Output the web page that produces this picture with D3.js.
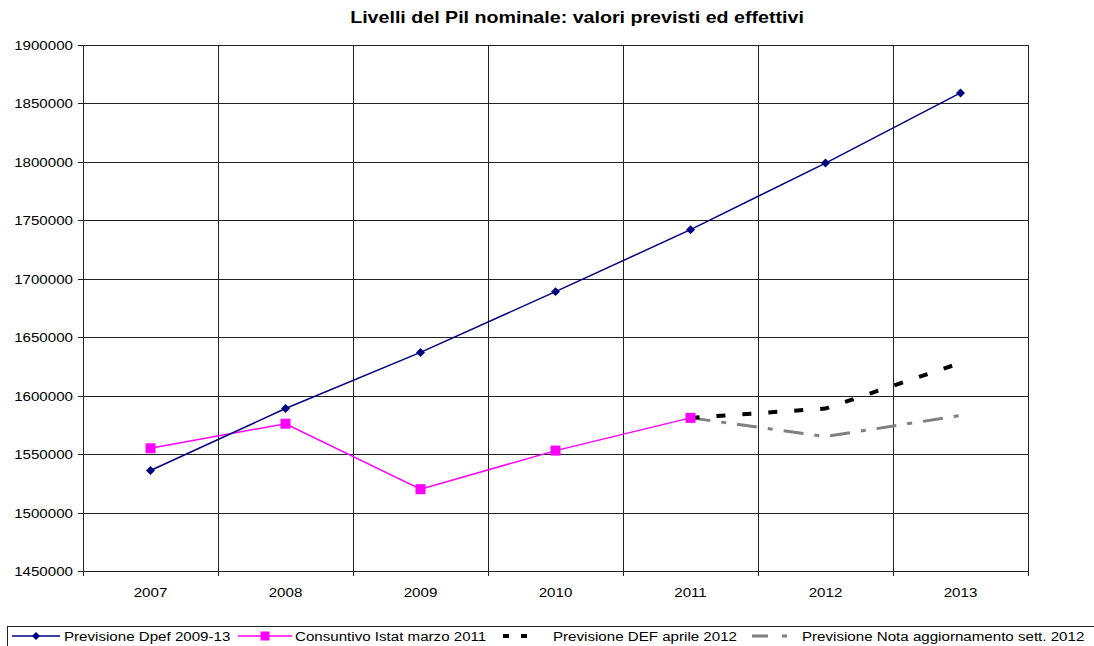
<!DOCTYPE html>
<html>
<head>
<meta charset="utf-8">
<script src="https://cdn.jsdelivr.net/npm/d3@7"></script>
<style>
  body { margin: 0; background: #fff; }
  svg text { font-family: "Liberation Sans", Arial, sans-serif; }
</style>
</head>
<body>
<script>
// dati
var anni = ["2007", "2008", "2009", "2010", "2011", "2012", "2013"];
var dpef = [1536000, 1589000, 1637000, 1689000, 1742000, 1799000, 1859000];
var istat = [1555000, 1576000, 1520000, 1553000, 1581000, null, null];
var def2012 = [null, null, null, null, 1581000, 1589000, 1628000];
var nota2012 = [null, null, null, null, 1581000, 1565000, 1583000];
var yTicks = [1450000, 1500000, 1550000, 1600000, 1650000, 1700000, 1750000, 1800000, 1850000, 1900000];
var titolo = "Livelli del Pil nominale: valori previsti ed effettivi";

var W = 1094, H = 646;
// margini (niente "top": e' riservato da window)
var pL = 83, pR = 1028, pT = 45, pB = 571;
var sx = 1.12; // il testo nell'originale e' un po' allargato

var svg = d3.select("body").append("svg")
    .attr("width", W)
    .attr("height", H);

var x = d3.scaleBand().domain(anni).range([pL, pR]);
var y = d3.scaleLinear().domain([1450000, 1900000]).range([pB, pT]);

function testo(g, tx, ty, s, size, anchor, stretch) {
  return g.append("text")
      .attr("transform", "translate(" + tx + "," + ty + ") scale(" + stretch + ",1)")
      .attr("text-anchor", anchor)
      .style("font-size", size + "px")
      .text(s);
}

// titolo
testo(svg, 577, 23, titolo, 16.5, "middle", 1.19)
    .style("font-weight", "bold");

// griglia orizzontale
svg.append("g").selectAll("line")
    .data(yTicks).enter()
    .append("line")
    .attr("x1", pL - 5).attr("x2", pR)
    .attr("y1", function(d) { return Math.round(y(d)) + 0.5; })
    .attr("y2", function(d) { return Math.round(y(d)) + 0.5; })
    .attr("stroke", "#222")
    .attr("stroke-width", 1);

// griglia verticale (confini delle categorie)
var bordi = anni.map(function(d) { return x(d); }).concat([pR]);
svg.append("g").selectAll("line")
    .data(bordi).enter()
    .append("line")
    .attr("x1", function(d) { return Math.round(d) + 0.5; })
    .attr("x2", function(d) { return Math.round(d) + 0.5; })
    .attr("y1", pT).attr("y2", pB + 5)
    .attr("stroke", "#222")
    .attr("stroke-width", 1);

// etichette asse y
var gy = svg.append("g");
yTicks.forEach(function(d) {
  testo(gy, pL - 10, y(d) + 5, d3.format("d")(d), 13.5, "end", sx);
});

// etichette asse x
var gx = svg.append("g");
anni.forEach(function(d) {
  testo(gx, x(d) + x.bandwidth() / 2, pB + 26, d, 13.5, "middle", sx);
});

var cx = function(d, i) { return x(anni[i]) + x.bandwidth() / 2; };
var linea = d3.line()
    .defined(function(d) { return d != null; })
    .x(cx)
    .y(function(d) { return y(d); });

// serie previsioni (sotto)
svg.append("path").datum(nota2012)
    .attr("d", linea)
    .attr("fill", "none")
    .attr("stroke", "#808080")
    .attr("stroke-width", 3)
    .attr("stroke-dasharray", "20,11,5,11");

svg.append("path").datum(def2012)
    .attr("d", linea)
    .attr("fill", "none")
    .attr("stroke", "#000")
    .attr("stroke-width", 4)
    .attr("stroke-dasharray", "9,17");

// consuntivo istat
svg.append("path").datum(istat)
    .attr("d", linea)
    .attr("fill", "none")
    .attr("stroke", "#ff00ff")
    .attr("stroke-width", 1.5);
var gi = svg.append("g");
istat.forEach(function(d, i) {
  if (d == null) return;
  gi.append("rect")
      .attr("x", cx(d, i) - 5)
      .attr("y", y(d) - 5)
      .attr("width", 10).attr("height", 10)
      .attr("fill", "#ff00ff");
});

// dpef (rombi = quadrati ruotati)
svg.append("path").datum(dpef)
    .attr("d", linea)
    .attr("fill", "none")
    .attr("stroke", "#000080")
    .attr("stroke-width", 1.5);
var rombo = d3.symbol().type(d3.symbolSquare).size(40);
svg.append("g").selectAll("path")
    .data(dpef).enter()
    .append("path")
    .attr("d", rombo)
    .attr("transform", function(d, i) { return "translate(" + cx(d, i) + "," + y(d) + ") rotate(45)"; })
    .attr("fill", "#000080");

// legenda
var leg = svg.append("g");
leg.append("rect")
    .attr("x", 7.5).attr("y", 626.5)
    .attr("width", 1090).attr("height", 22)
    .attr("fill", "#fff").attr("stroke", "#222");

var voci = [
  {nome: "Previsione Dpef 2009-13", x0: 12, x1: 60, tx: 64, col: "#000080", w: 1.5, dash: null, mark: "diamond"},
  {nome: "Consuntivo Istat marzo 2011", x0: 238, x1: 292, tx: 295, col: "#ff00ff", w: 1.5, dash: null, mark: "square"},
  {nome: "Previsione DEF aprile 2012", x0: 503, x1: 535, tx: 553, col: "#000", w: 4, dash: "6,12", mark: null},
  {nome: "Previsione Nota aggiornamento sett. 2012", x0: 752, x1: 790, tx: 802, col: "#808080", w: 3, dash: "16,14,5,20", mark: null}
];
var ly = 636;
voci.forEach(function(v) {
  leg.append("line")
      .attr("x1", v.x0).attr("x2", v.x1)
      .attr("y1", ly).attr("y2", ly)
      .attr("stroke", v.col)
      .attr("stroke-width", v.w)
      .attr("stroke-dasharray", v.dash);
  var m = (v.x0 + v.x1) / 2;
  if (v.mark == "diamond") {
    leg.append("path")
        .attr("d", d3.symbol().type(d3.symbolSquare).size(32))
        .attr("transform", "translate(" + m + "," + ly + ") rotate(45)")
        .attr("fill", v.col);
  }
  if (v.mark == "square") {
    leg.append("rect")
        .attr("x", m - 4.5).attr("y", ly - 4.5)
        .attr("width", 9).attr("height", 9)
        .attr("fill", v.col);
  }
  testo(leg, v.tx, ly + 5, v.nome, 13.5, "start", sx);
});
</script>
</body>
</html>
